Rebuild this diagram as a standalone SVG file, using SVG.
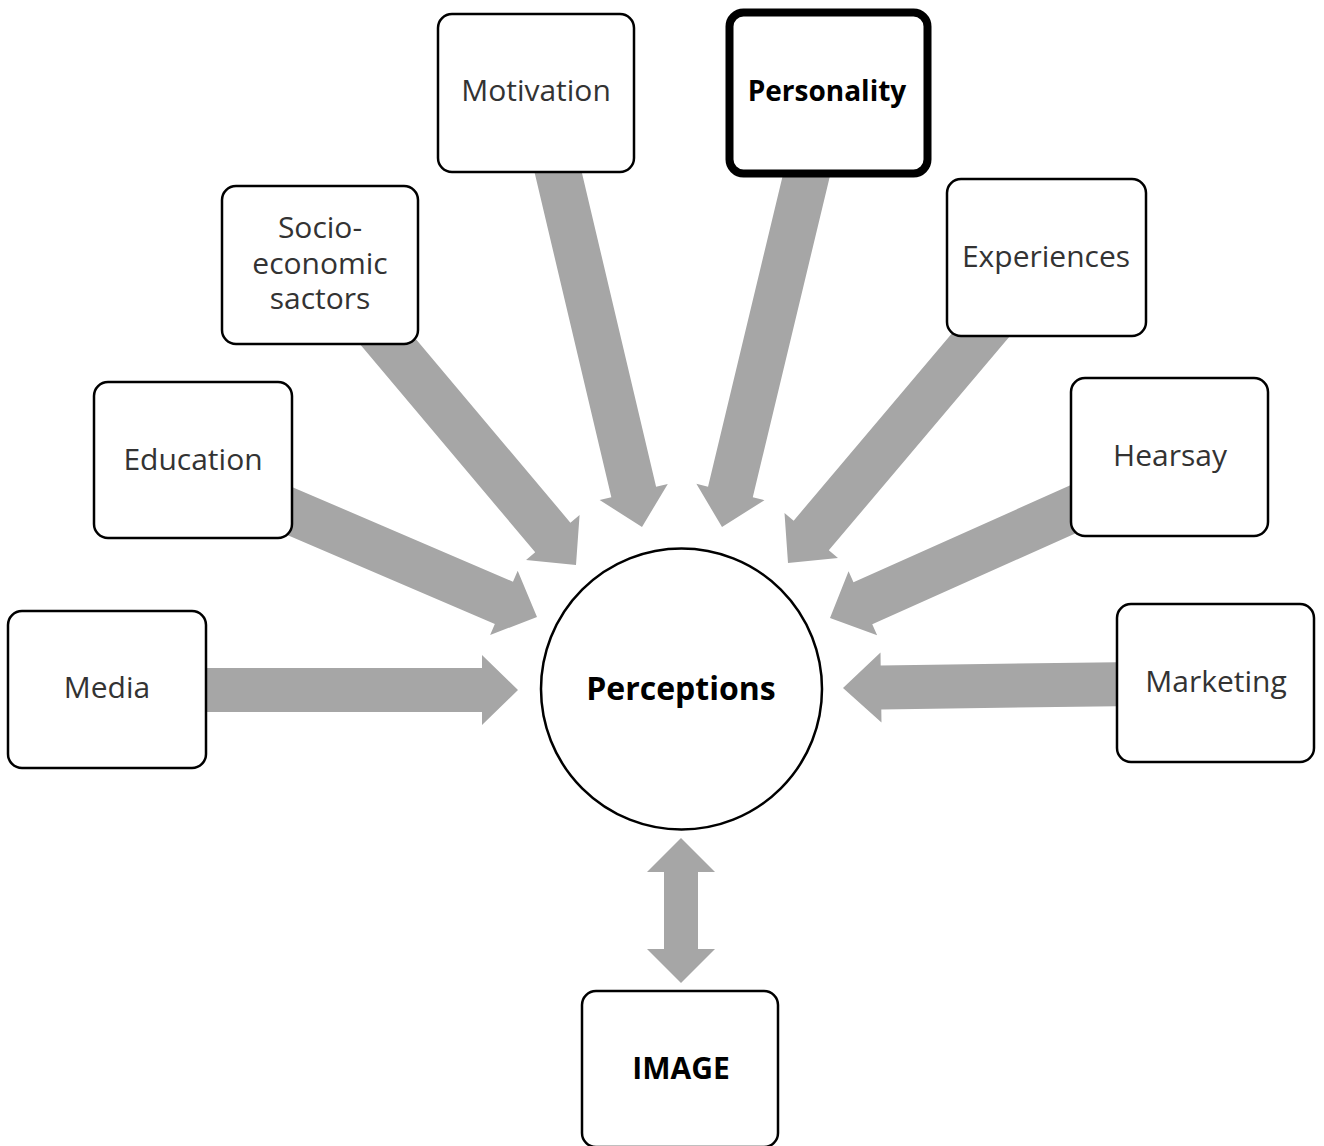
<svg xmlns="http://www.w3.org/2000/svg" width="1324" height="1146" viewBox="0 0 1324 1146">
<style>
.node rect{fill:#fff;stroke:#000;stroke-width:2.5}
.arrow{fill:#a6a6a6}
text{font-family:"Open Sans","Noto Sans","Liberation Sans",sans-serif;font-size:30px;text-anchor:middle;fill:#333}
.b{font-weight:bold;fill:#000}
</style>
<rect width="1324" height="1146" fill="#fff"/>
<g id="connectors">
<polygon class="arrow" transform="translate(518,690)" points="-312,-22 -36,-22 -36,-35 0,0 -36,35 -36,22 -312,22"/>
<polygon class="arrow" transform="translate(537,617) rotate(23.2)" points="-286,-23 -36,-23 -36,-35 0,0 -36,35 -36,23 -286,23"/>
<polygon class="arrow" transform="translate(576,565) rotate(49.9)" points="-308,-23 -36,-23 -36,-35 0,0 -36,35 -36,23 -308,23"/>
<polygon class="arrow" transform="translate(642,527) rotate(76.7)" points="-385,-23 -36,-23 -36,-35 0,0 -36,35 -36,23 -385,23"/>
<polygon class="arrow" transform="translate(722,527) rotate(103.5)" points="-381,-23 -36,-23 -36,-35 0,0 -36,35 -36,23 -381,23"/>
<polygon class="arrow" transform="translate(788,563) rotate(130.2)" points="-318,-23 -36,-23 -36,-35 0,0 -36,35 -36,23 -318,23"/>
<polygon class="arrow" transform="translate(830,618) rotate(155.9)" points="-284,-23 -36,-23 -36,-35 0,0 -36,35 -36,23 -284,23"/>
<polygon class="arrow" transform="translate(843,688) rotate(179.2)" points="-294,-22 -38,-22 -38,-35 0,0 -38,35 -38,22 -294,22"/>
<polygon class="arrow" points="681,838 715,872 698,872 698,949 715,949 681,983 647,949 664,949 664,872 647,872"/>
</g>
<g id="perceptions" class="node">
<circle cx="681.5" cy="689" r="140.5" fill="#fff" stroke="#000" stroke-width="2.5"/>
<text x="681" y="700" class="b" style="font-size:32px">Perceptions</text>
</g>
<g id="media" class="node">
<rect x="8" y="611" width="198" height="157" rx="14"/>
<text x="107" y="698">Media</text>
</g>
<g id="education" class="node">
<rect x="94" y="382" width="198" height="156" rx="14"/>
<text x="193" y="470">Education</text>
</g>
<g id="socio" class="node">
<rect x="222" y="186" width="196" height="158" rx="14"/>
<text x="320" y="238">Socio-</text>
<text x="320" y="274">economic</text>
<text x="320" y="309">sactors</text>
</g>
<g id="motivation" class="node">
<rect x="438" y="14" width="196" height="158" rx="14"/>
<text x="536" y="101">Motivation</text>
</g>
<g id="personality" class="node">
<rect x="729.5" y="12.5" width="198" height="161" rx="14" style="stroke-width:8"/>
<text x="827" y="101" class="b" style="font-size:28px">Personality</text>
</g>
<g id="experiences" class="node">
<rect x="947" y="179" width="199" height="157" rx="14"/>
<text x="1046" y="267">Experiences</text>
</g>
<g id="hearsay" class="node">
<rect x="1071" y="378" width="197" height="158" rx="14"/>
<text x="1170" y="466">Hearsay</text>
</g>
<g id="marketing" class="node">
<rect x="1117" y="604" width="197" height="158" rx="14"/>
<text x="1216" y="692">Marketing</text>
</g>
<g id="image" class="node">
<rect x="582" y="991" width="196" height="156" rx="14"/>
<text x="681" y="1079" class="b">IMAGE</text>
</g>
</svg>
